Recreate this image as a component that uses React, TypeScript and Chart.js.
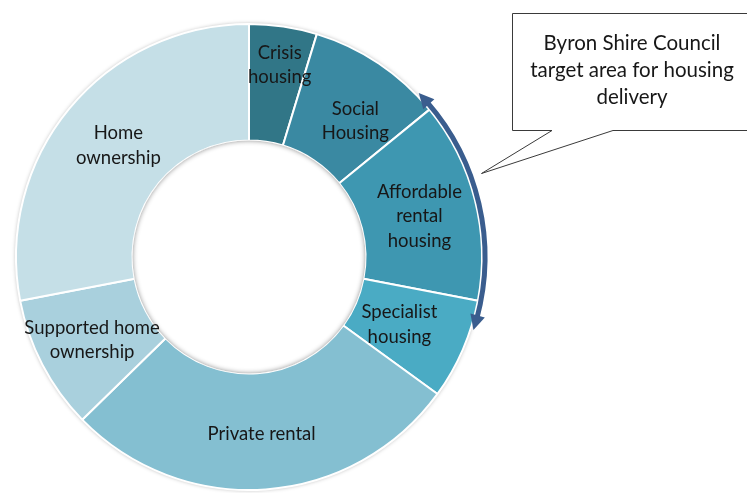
import React, { useEffect, useRef } from "react";
import { Chart, registerables } from "chart.js";

Chart.register(...registerables);

// ---- data ----
const categories = [
  "Crisis housing",
  "Social Housing",
  "Affordable rental housing",
  "Specialist housing",
  "Private rental",
  "Supported home ownership",
  "Home ownership",
];
const labelLines = [
  ["Crisis", "housing"],
  ["Social", "Housing"],
  ["Affordable", "rental", "housing"],
  ["Specialist", "housing"],
  ["Private rental"],
  ["Supported home", "ownership"],
  ["Home", "ownership"],
];
const shares = [4.7, 9.4, 13.9, 7.0, 27.7, 9.3, 28.0];
const calloutLines = ["Byron Shire Council", "target area for housing", "delivery"];

// ---- styles ----
const segmentColors = ["#317687", "#3A89A2", "#3E97B1", "#4AABC4", "#84BFD1", "#A9D0DD", "#C5DFE7"];
const labelNudge = [
  [5, -19],
  [9, 9],
  [1, 2],
  [-10, -2],
  [0, 3],
  [-2, 2],
  [4, 0],
];
const LABEL_FONT = "18.5px Lato, 'Open Sans', sans-serif";
const CALLOUT_FONT = "20.5px Lato, 'Open Sans', sans-serif";
const ARROW_COLOR = "#3A5D8E";
const ARROW_START_DEG = 46;
const ARROW_END_DEG = 108;

const decorPlugin = {
  id: "decor",
  beforeDatasetsDraw(chart: any) {
    const meta = chart.getDatasetMeta(0);
    const arc = meta.data[0];
    if (!arc) return;
    const { x, y, outerRadius } = arc.getProps(["x", "y", "outerRadius"], true);
    const ctx = chart.ctx;
    ctx.save();
    ctx.shadowColor = "rgba(0,0,0,0.35)";
    ctx.shadowBlur = 4;
    ctx.fillStyle = "#ffffff";
    ctx.beginPath();
    ctx.arc(x, y, outerRadius, 0, Math.PI * 2);
    ctx.fill();
    ctx.restore();
  },
  afterDatasetsDraw(chart: any) {
    const meta = chart.getDatasetMeta(0);
    const ctx = chart.ctx;
    const first = meta.data[0];
    if (!first) return;
    const { x: cx, y: cy, innerRadius, outerRadius } = first.getProps(
      ["x", "y", "innerRadius", "outerRadius"],
      true
    );

    // inner hole shadow
    ctx.save();
    ctx.beginPath();
    ctx.arc(cx, cy, innerRadius, 0, Math.PI * 2);
    ctx.clip();
    ctx.shadowColor = "rgba(0,0,0,0.45)";
    ctx.shadowBlur = 5;
    ctx.strokeStyle = "#ffffff";
    ctx.lineWidth = 12;
    ctx.beginPath();
    ctx.arc(cx, cy, innerRadius + 6, 0, Math.PI * 2);
    ctx.stroke();
    ctx.restore();

    // segment labels
    ctx.save();
    ctx.font = LABEL_FONT;
    ctx.fillStyle = "#171717";
    ctx.textAlign = "center";
    ctx.textBaseline = "middle";
    const lh = 24.5;
    meta.data.forEach((el: any, i: number) => {
      const p = el.getCenterPoint(true);
      const lines = labelLines[i];
      const nx = labelNudge[i][0];
      const ny = labelNudge[i][1];
      const top = p.y + ny - ((lines.length - 1) * lh) / 2;
      lines.forEach((t, k) => ctx.fillText(t, p.x + nx, top + k * lh));
    });
    ctx.restore();

    // arc arrow
    const R = outerRadius + 3;
    const pt = (deg: number, r: number) => {
      const a = (deg * Math.PI) / 180;
      return { x: cx + r * Math.sin(a), y: cy - r * Math.cos(a) };
    };
    const headLen = 15;
    const headHalf = 7.5;
    const dHead = (headLen / R) * (180 / Math.PI);
    ctx.save();
    ctx.strokeStyle = ARROW_COLOR;
    ctx.fillStyle = ARROW_COLOR;
    ctx.lineWidth = 5;
    ctx.beginPath();
    const a0 = ((ARROW_START_DEG + dHead * 0.8 - 90) * Math.PI) / 180;
    const a1 = ((ARROW_END_DEG - dHead * 0.8 - 90) * Math.PI) / 180;
    ctx.arc(cx, cy, R, a0, a1);
    ctx.stroke();
    const head = (tipDeg: number, baseDeg: number) => {
      const tip = pt(tipDeg, R);
      const base = pt(baseDeg, R);
      const dx = tip.x - base.x;
      const dy = tip.y - base.y;
      const len = Math.hypot(dx, dy);
      const nx = -dy / len;
      const ny = dx / len;
      ctx.beginPath();
      ctx.moveTo(tip.x, tip.y);
      ctx.lineTo(base.x + nx * headHalf, base.y + ny * headHalf);
      ctx.lineTo(base.x - nx * headHalf, base.y - ny * headHalf);
      ctx.closePath();
      ctx.fill();
    };
    head(ARROW_START_DEG, ARROW_START_DEG + dHead);
    head(ARROW_END_DEG, ARROW_END_DEG - dHead);
    ctx.restore();

    // callout box
    ctx.save();
    ctx.beginPath();
    ctx.moveTo(512.5, 13.5);
    ctx.lineTo(749, 13.5);
    ctx.lineTo(749, 130.5);
    ctx.lineTo(613, 130.5);
    ctx.lineTo(481.5, 173.5);
    ctx.lineTo(552, 130.5);
    ctx.lineTo(512.5, 130.5);
    ctx.closePath();
    ctx.fillStyle = "#ffffff";
    ctx.fill();
    ctx.strokeStyle = "#3a3a3a";
    ctx.lineWidth = 1;
    ctx.stroke();
    ctx.font = CALLOUT_FONT;
    ctx.fillStyle = "#171717";
    ctx.textAlign = "center";
    ctx.textBaseline = "middle";
    calloutLines.forEach((t, k) => ctx.fillText(t, 632, 43 + k * 27));
    ctx.restore();
  },
};

export default function App() {
  const ref = useRef<HTMLCanvasElement | null>(null);
  useEffect(() => {
    if (!ref.current) return;
    const chart = new Chart(ref.current, {
      type: "doughnut",
      data: {
        labels: categories,
        datasets: [
          {
            data: shares,
            backgroundColor: segmentColors,
            borderColor: "#ffffff",
            borderWidth: 2,
          },
        ],
      },
      options: {
        responsive: false,
        animation: false,
        cutout: "50%",
        layout: { padding: { left: 15, top: 23, right: 264, bottom: 2 } },
        plugins: {
          legend: { display: false },
          tooltip: { enabled: false },
        },
      },
      plugins: [decorPlugin],
    });
    return () => chart.destroy();
  }, []);
  return (
    <div style={{ position: "absolute", left: 0, top: 0, width: 747, height: 493, background: "#fff" }}>
      <canvas ref={ref} width={747} height={493} />
    </div>
  );
}
